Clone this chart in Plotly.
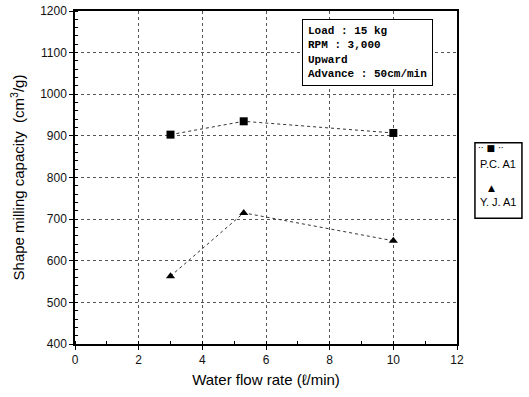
import plotly.graph_objects as go

flow = [3, 5.3, 10]
pc_a1 = [903, 935, 907]
yj_a1 = [563, 715, 648]
series_names = ["P.C. A1", "Y. J. A1"]
x_ticks = [0, 2, 4, 6, 8, 10, 12]
y_ticks = [400, 500, 600, 700, 800, 900, 1000, 1100, 1200]

tickfont = dict(family="Liberation Sans Narrow, Arial Narrow, Liberation Sans", size=12, color="#111")

fig = go.Figure()
fig.add_trace(go.Scatter(x=flow, y=pc_a1, name=series_names[0], mode="lines+markers",
                         line=dict(color="#333", width=1, dash="dot"),
                         marker=dict(symbol="square", size=8, color="#000")))
fig.add_trace(go.Scatter(x=flow, y=yj_a1, name=series_names[1], mode="lines+markers",
                         line=dict(color="#333", width=1, dash="dot"),
                         marker=dict(symbol="triangle-up", size=8, color="#000")))

fig.update_layout(
    width=529, height=397,
    margin=dict(l=75, r=72, t=11, b=53, autoexpand=False),
    paper_bgcolor="white", plot_bgcolor="white",
    showlegend=False,
    xaxis=dict(range=[0, 12], tickvals=x_ticks, ticktext=[str(v) for v in x_ticks],
               showline=True, linecolor="#000", linewidth=1.5, mirror=True,
               ticks="outside", ticklen=4, tickcolor="#000",
               minor=dict(dtick=1, ticks="inside", ticklen=3, tickcolor="#000"),
               showgrid=True, gridcolor="#555", griddash="dot", gridwidth=1,
               zeroline=False, tickfont=tickfont,
               title=dict(text="Water flow rate (ℓ/min)", standoff=8,
                          font=dict(family="Liberation Sans, Arial", size=15, color="#000"))),
    yaxis=dict(range=[400, 1200], tickvals=y_ticks, ticktext=[str(v) for v in y_ticks],
               showline=True, linecolor="#000", linewidth=1.5, mirror=True,
               ticks="outside", ticklen=4, tickcolor="#000",
               minor=dict(dtick=20, ticks="inside", ticklen=3, tickcolor="#000"),
               showgrid=True, gridcolor="#555", griddash="dot", gridwidth=1,
               zeroline=False, tickfont=tickfont,
               title=dict(text="Shape milling capacity  (cm<sup>3</sup>/g)", standoff=12,
                          font=dict(family="Liberation Sans, Arial", size=15, color="#000"))),
)

fig.add_annotation(
    xref="paper", yref="paper", x=0.594, y=0.975, xanchor="left", yanchor="top",
    text="<b>Load : 15 kg</b><br><b>RPM : 3,000</b><br><b>Upward</b><br><b>Advance : 50cm/min</b>",
    align="left", showarrow=False,
    font=dict(family="Liberation Mono, DejaVu Sans Mono", size=11, color="#000"),
    bordercolor="#000", borderwidth=1, borderpad=5, bgcolor="white",
)

# Custom legend (marker above label, as in the reference)
fig.add_shape(type="rect", xref="paper", yref="paper", x0=1.047, x1=1.170, y0=0.378, y1=0.604,
              line=dict(color="#000", width=1.5), fillcolor="white")
legend_font = dict(family="Liberation Sans Narrow, Liberation Sans", size=11, color="#000")
legend_rows = [("·· ■ ··", series_names[0], 0.590, 0.540), ("▲", series_names[1], 0.468, 0.425)]
for sym, name, ysym, ytxt in legend_rows:
    fig.add_annotation(xref="paper", yref="paper", x=1.090, y=ysym, text=sym, showarrow=False,
                       xanchor="center", yanchor="middle",
                       font=dict(family="DejaVu Sans", size=9, color="#000"))
    fig.add_annotation(xref="paper", yref="paper", x=1.108, y=ytxt, text=name, showarrow=False,
                       xanchor="center", yanchor="middle", font=legend_font)

fig.write_html("out.html")
